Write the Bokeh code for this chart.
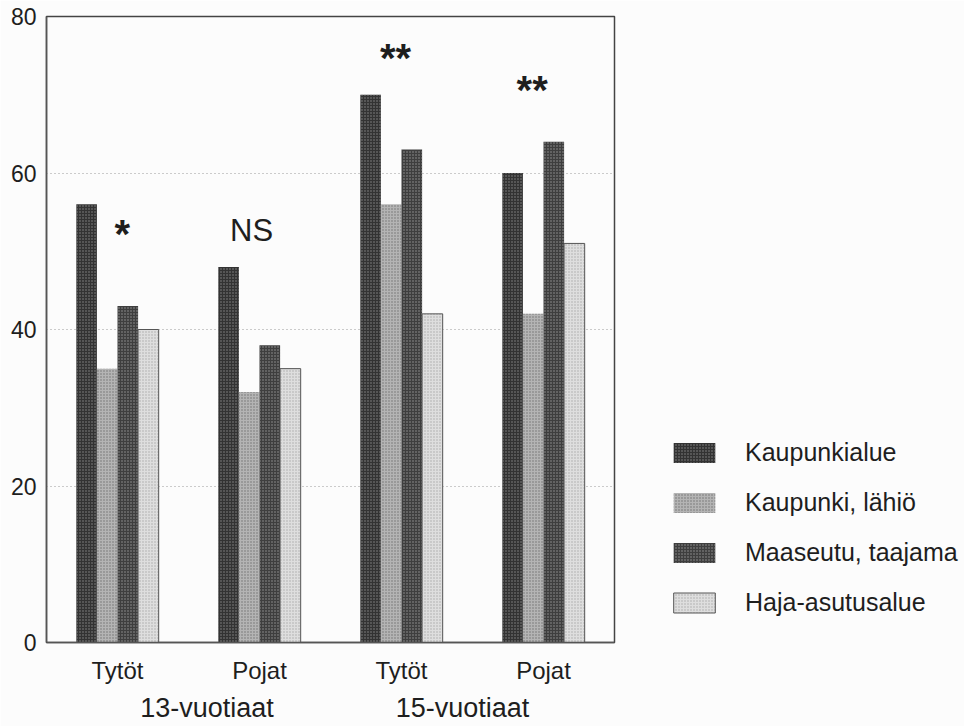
import numpy as np
from bokeh.plotting import figure
from bokeh.models import (ColumnDataSource, FixedTicker, LinearAxis, Range1d,
                          Legend, LegendItem)
from bokeh.transform import dodge
from bokeh.core.properties import value
from bokeh.embed import file_html
from bokeh.resources import INLINE

# ---------------- data ----------------
groups = ["Tytöt", "Pojat", "Tytöt", "Pojat"]
age_groups = ["13-vuotiaat", "15-vuotiaat"]
series = ["Kaupunkialue", "Kaupunki, lähiö", "Maaseutu, taajama", "Haja-asutusalue"]
kaupunkialue = [56, 48, 70, 60]
kaupunki_lahio = [35, 32, 56, 42]
maaseutu_taajama = [43, 38, 63, 64]
haja_asutusalue = [40, 35, 42, 51]
significance = ["*", "NS", "**", "**"]
y_ticks = [0, 20, 40, 60, 80]

# ---------------- layout / style ----------------
FONT = "Liberation Sans"
TXT = "#1e1e1e"
BG = "#fcfcfc"

x_pos = [i + 0.5 for i in range(len(groups))]
age_pos = [1.13, 2.93]

source = ColumnDataSource(dict(
    x=x_pos, s0=kaupunkialue, s1=kaupunki_lahio, s2=maaseutu_taajama, s3=haja_asutusalue,
))

p = figure(frame_width=568, frame_height=626, output_backend="svg", toolbar_location=None,
           x_range=Range1d(0, 4), y_range=Range1d(0, 80),
           min_border_left=46, min_border_right=0, min_border_top=16, min_border_bottom=84,
           background_fill_color=BG, border_fill_color=BG)

bar_w = 0.145
offsets = [-1.5 * bar_w, -0.5 * bar_w, 0.5 * bar_w, 1.5 * bar_w]
styles = [
    dict(fill_color="#333333", hatch_pattern="dot", hatch_color="#8a8a8a", hatch_scale=3, hatch_weight=1, line_color=None),
    dict(fill_color="#b4b4b4", hatch_pattern="dot", hatch_color="#707070", hatch_scale=3, hatch_weight=1, line_color=None),
    dict(fill_color="#3e3e3e", hatch_pattern="dot", hatch_color="#989898", hatch_scale=3, hatch_weight=1, line_color=None),
    dict(fill_color="#dedede", hatch_pattern="dot", hatch_color="#aaaaaa", hatch_scale=3, hatch_weight=1, line_color="#555555", line_width=1),
]
renderers = []
for i, (col, off, st) in enumerate(zip(["s0", "s1", "s2", "s3"], offsets, styles)):
    r = p.vbar(x=dodge("x", off), top=col, width=bar_w, bottom=0, source=source, **st)
    renderers.append(r)

# significance markers
star_x = [0.533, 1.444, 2.458, 3.42]
star_y = [52.2, 52.6, 74.7, 70.6]
sizes = ["40px", "31px", "40px", "40px"]
styles_txt = ["bold", "normal", "bold", "bold"]
p.text(x=star_x, y=star_y, text=significance, text_font=value(FONT),
       text_font_size=sizes, text_font_style=styles_txt,
       text_align="center", text_baseline="middle", text_color=TXT)

# grid
p.xgrid.visible = False
p.ygrid.ticker = FixedTicker(ticks=[20, 40, 60])
p.ygrid.grid_line_color = "#9a9a9a"
p.ygrid.grid_line_dash = "1 3"
p.ygrid.grid_line_width = 1

p.outline_line_color = "#444444"
p.outline_line_width = 1.5

# y axis
p.yaxis.ticker = FixedTicker(ticks=y_ticks)
p.yaxis.major_label_text_font = FONT
p.yaxis.major_label_text_font_size = "23px"
p.yaxis.major_label_text_color = TXT
p.yaxis.major_label_standoff = 10
p.yaxis.major_tick_out = 0
p.yaxis.major_tick_in = 0
p.yaxis.minor_tick_out = 0
p.yaxis.minor_tick_in = 0
p.yaxis.axis_line_color = "#555555"
p.yaxis.axis_line_width = 1.5

# x axis (sex)
p.xaxis.ticker = FixedTicker(ticks=x_pos)
p.xaxis.major_label_overrides = {x: g for x, g in zip(x_pos, groups)}
p.xaxis.major_label_text_font = FONT
p.xaxis.major_label_text_font_size = "24px"
p.xaxis.major_label_text_color = TXT
p.xaxis.major_label_standoff = 14
p.xaxis.major_tick_out = 0
p.xaxis.major_tick_in = 0
p.xaxis.minor_tick_out = 0
p.xaxis.minor_tick_in = 0
p.xaxis.axis_line_color = "#555555"
p.xaxis.axis_line_width = 1.5

# second x axis (age group)
ax2 = LinearAxis(ticker=FixedTicker(ticks=age_pos),
                 major_label_overrides={x: a for x, a in zip(age_pos, age_groups)},
                 major_label_text_font=FONT, major_label_text_font_size="27px",
                 major_label_text_color=TXT, major_label_standoff=6,
                 major_tick_out=0, major_tick_in=0, minor_tick_out=0, minor_tick_in=0,
                 axis_line_color=None)
p.add_layout(ax2, "below")

# legend
legend = Legend(items=[LegendItem(label=s, renderers=[r]) for s, r in zip(series, renderers)],
                location=(54, 25), orientation="vertical",
                glyph_width=52, glyph_height=25, label_height=25, spacing=21,
                label_standoff=25, padding=0, margin=0,
                label_text_font=FONT, label_text_font_size="25px", label_text_color=TXT,
                border_line_alpha=0, background_fill_alpha=0)
p.add_layout(legend, "right")

open("out.html", "w").write(file_html(p, INLINE))
